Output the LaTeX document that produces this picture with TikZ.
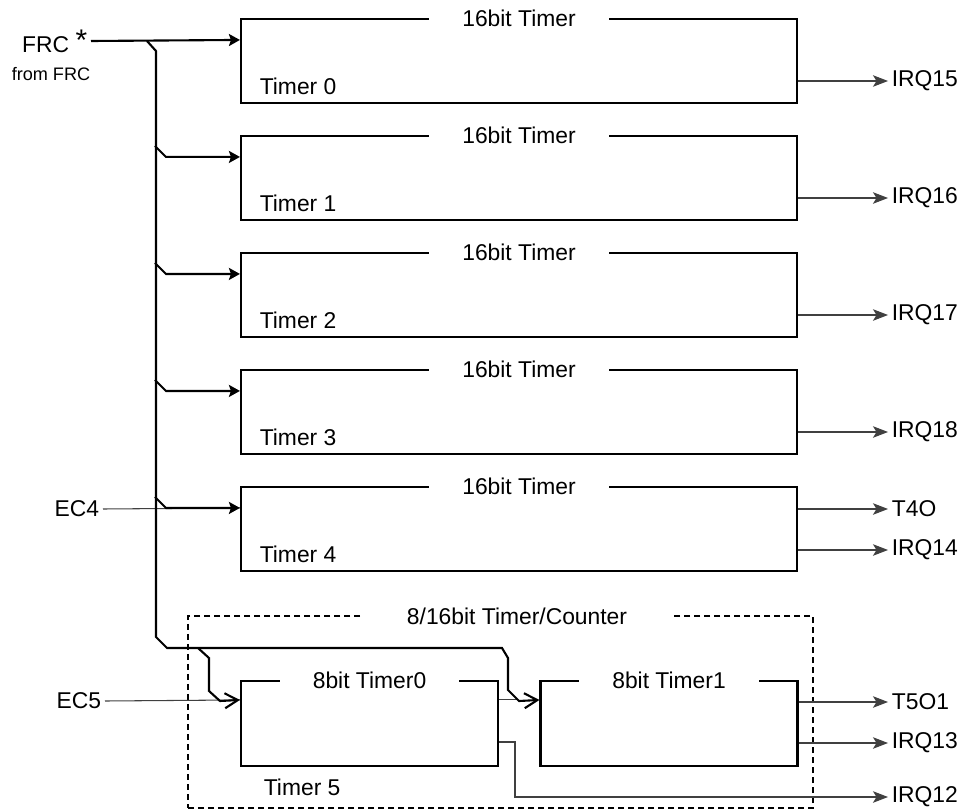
\documentclass[tikz,border=0pt]{standalone}
\usepackage{fontspec}
\setmainfont{Liberation Sans}
\usetikzlibrary{arrows.meta,calc,positioning}

\tikzset{
  tbox/.style={draw,line width=1.2pt,minimum width=111.2mm,minimum height=16.8mm,inner sep=0pt},
  hbox/.style={draw,line width=1.2pt,minimum width=51.4mm,minimum height=17mm,inner sep=0pt},
  grpbox/.style={draw,dash pattern=on 1.2mm off 0.8mm,line width=0.9pt,minimum width=125mm,minimum height=38.4mm,inner sep=0pt},
  ttl/.style={fill=white,inner xsep=6.6mm,inner ysep=1pt},
  lbl/.style={inner sep=2pt},
  bus/.style={line width=1.2pt},
  sig/.style={line width=0.6pt,black!75},
  feed/.style={-{Stealth[length=2.2mm,width=2.4mm,inset=0.4mm]}},
  tap/.style={-{Straight Barb[length=2.6mm,width=3mm]}},
  outarr/.style={-{Stealth[length=3mm,width=2.3mm,inset=0.7mm]}}
}

\begin{document}
\begin{tikzpicture}[x=0.2mm,y=-0.2mm,font=\fontsize{13}{15}\selectfont]
\useasboundingbox (0,0) rectangle (970,811);

% 16bit timers
\foreach \i in {0,...,4}{
  \node[tbox] (tmr\i) at (519,{61+117*\i}) {};
  \node[ttl] at (tmr\i.north) {16bit Timer};
  \node[lbl,anchor=west] at ($(tmr\i.south west)+(16,-18)$) {Timer \i};
  \coordinate (in\i) at ($(tmr\i.north west)+(0,22)$);
}

% 8/16bit timer/counter
\node[grpbox] (grp) at (500.5,712) {};
\node[ttl,inner xsep=9.2mm] at (517,616) {8/16bit Timer/Counter};
\node[hbox] (a0) at (369.5,723.5) {};
\node[ttl] at (a0.north) {8bit Timer0};
\node[hbox] (a1) at (669,723.5) {};
\node[ttl] at (a1.north) {8bit Timer1};
\node[lbl,anchor=west] at (260,787) {Timer 5};
\coordinate (b0) at ($(a0.north west)+(0,20)$);
\coordinate (b1) at ($(a1.north west)+(0,20)$);

% inputs
\node[lbl,anchor=east] (frc) at (91,41) {FRC\ \raisebox{1pt}{\fontsize{17}{17}\selectfont *}};
\node[lbl,font=\fontsize{10.3}{12}\selectfont] (frcsrc) at (51,74) {from FRC};
\node[lbl,anchor=east] (ec4) at (103,509) {EC4};
\node[lbl,anchor=east] (ec5) at (105,701) {EC5};
\draw[sig] (ec4.east) -- (in4);
\draw[sig] (ec5.east) -- (b0);
\draw[sig] (a0.east |- b1) -- ($(b1)+(-22,0)$);

\draw[bus,feed] (frc.east) -- (in0);
\coordinate (split) at (147,41);
\draw[bus,tap] (split) -- (156,51) -- (156,637) -- (167,648) -- (502,648)
  -- (508,658) -- (508,690) -- (519,701) -- (b1);
\draw[bus,tap] (198,648) -- (209,658) -- (209,691) -- (220,701) -- (b0);
\foreach \i in {1,...,4}
  \draw[bus,feed] ($(in\i)+(-85,-11)$) -- ($(in\i)+(-74,0)$) -- (in\i);

% outputs
\foreach \i/\q in {0/15,1/16,2/17,3/18}{
  \node[lbl,anchor=west] (irq\q) at (888,{81+117*\i}) {IRQ\q};
  \draw[sig,outarr] (tmr\i.east |- irq\q) -- (irq\q.west);
}
\node[lbl,anchor=west] (t4o) at (888,509) {T4O};
\node[lbl,anchor=west] (irq14) at (888,550) {IRQ14};
\node[lbl,anchor=west] (t5o1) at (888,702) {T5O1};
\node[lbl,anchor=west] (irq13) at (888,743) {IRQ13};
\node[lbl,anchor=west] (irq12) at (888,797) {IRQ12};
\draw[sig,outarr] (tmr4.east |- t4o) -- (t4o.west);
\draw[sig,outarr] (tmr4.east |- irq14) -- (irq14.west);
\draw[sig,outarr] (a1.east |- t5o1) -- (t5o1.west);
\draw[sig,outarr] (a1.east |- irq13) -- (irq13.west);
\draw[sig,outarr] (a0.east |- 0,742) -- (515,742) |- (irq12.west);
\end{tikzpicture}
\end{document}
